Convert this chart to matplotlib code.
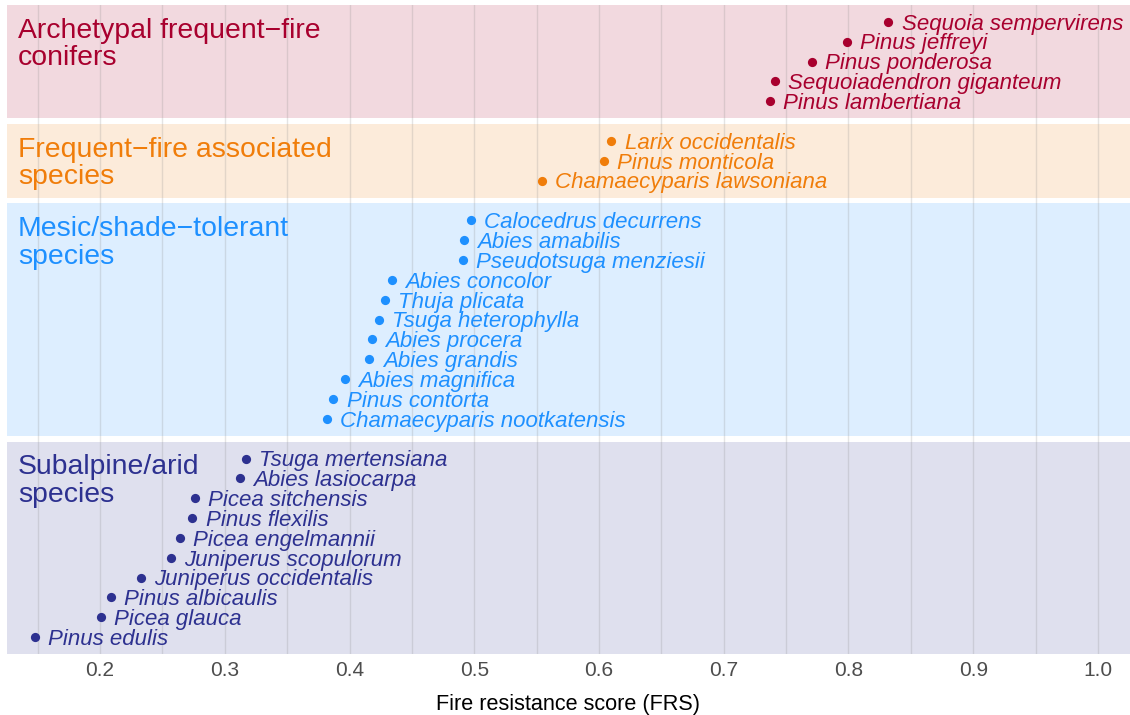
import matplotlib
matplotlib.use('Agg')
import matplotlib.pyplot as plt

# group names and colours
groups = ['Archetypal frequent\u2212fire\nconifers',
          'Frequent\u2212fire associated\nspecies',
          'Mesic/shade\u2212tolerant\nspecies',
          'Subalpine/arid\nspecies']
colors = ['#A8002E', '#F07D0A', '#1E90FF', '#2D3190']

# species and fire resistance scores, per group (top to bottom)
species_1 = ['Sequoia sempervirens', 'Pinus jeffreyi', 'Pinus ponderosa',
             'Sequoiadendron giganteum', 'Pinus lambertiana']
frs_1 = [0.832, 0.799, 0.771, 0.741, 0.737]

species_2 = ['Larix occidentalis', 'Pinus monticola', 'Chamaecyparis lawsoniana']
frs_2 = [0.610, 0.604, 0.554]

species_3 = ['Calocedrus decurrens', 'Abies amabilis', 'Pseudotsuga menziesii',
             'Abies concolor', 'Thuja plicata', 'Tsuga heterophylla',
             'Abies procera', 'Abies grandis', 'Abies magnifica',
             'Pinus contorta', 'Chamaecyparis nootkatensis']
frs_3 = [0.497, 0.492, 0.491, 0.434, 0.4285, 0.4235, 0.418, 0.416, 0.396,
         0.387, 0.382]

species_4 = ['Tsuga mertensiana', 'Abies lasiocarpa', 'Picea sitchensis',
             'Pinus flexilis', 'Picea engelmannii', 'Juniperus scopulorum',
             'Juniperus occidentalis', 'Pinus albicaulis', 'Picea glauca',
             'Pinus edulis']
frs_4 = [0.317, 0.312, 0.276, 0.274, 0.264, 0.257, 0.233, 0.209, 0.201, 0.148]

xticks = [0.2, 0.3, 0.4, 0.5, 0.6, 0.7, 0.8, 0.9, 1.0]

plt.rcParams['font.family'] = ['Liberation Sans', 'DejaVu Sans']

fig = plt.figure(figsize=(11.3, 7.15), dpi=100)
ax = fig.add_axes([7 / 1130, 1 - 654 / 715, 1 - 7 / 1130, 649 / 715])

xmin, xmax = 0.1254, 1.0257
pad = 0.85
row = 0
for name, col, sp, vals in zip(groups, colors,
                                [species_1, species_2, species_3, species_4],
                                [frs_1, frs_2, frs_3, frs_4]):
    ys = list(range(row, row + len(sp)))
    top = ys[0] - pad
    bot = ys[-1] + pad
    ax.axhspan(top, bot, color=col, alpha=0.15, lw=0, zorder=0)
    ax.scatter(vals, ys, s=44, color=col, zorder=3, lw=0)
    for v, y, s in zip(vals, ys, sp):
        # baseline sits half a cap height below the dot
        ax.annotate(s, (v, y), xytext=(9.5, -5.6), textcoords='offset points',
                    ha='left', va='baseline', fontsize=16, style='italic',
                    color=col, zorder=4)
    ax.annotate(name, (xmin, top), xytext=(8, -9), textcoords='offset points',
                ha='left', va='top', fontsize=20.4, color=col, linespacing=1.08)
    row = ys[-1] + 2

ax.set_xlim(xmin, xmax)
ax.set_ylim(row - 2 + pad, -pad)
ax.set_xticks(xticks)
ax.set_xticks([t + 0.05 for t in [0.1] + xticks[:-1]], minor=True)
ax.set_xticklabels(['%.1f' % t for t in xticks])
ax.tick_params(axis='x', which='both', length=0, labelsize=15, colors='#4d4d4d', pad=5)
ax.set_yticks([])
ax.grid(axis='x', which='both', color='#888888', alpha=0.22, lw=1, zorder=1)
ax.set_axisbelow(False)
for s in ax.spines.values():
    s.set_visible(False)
ax.set_xlabel('Fire resistance score (FRS)', fontsize=15.6, color='black', labelpad=10)

plt.savefig('out.png', dpi=100)
